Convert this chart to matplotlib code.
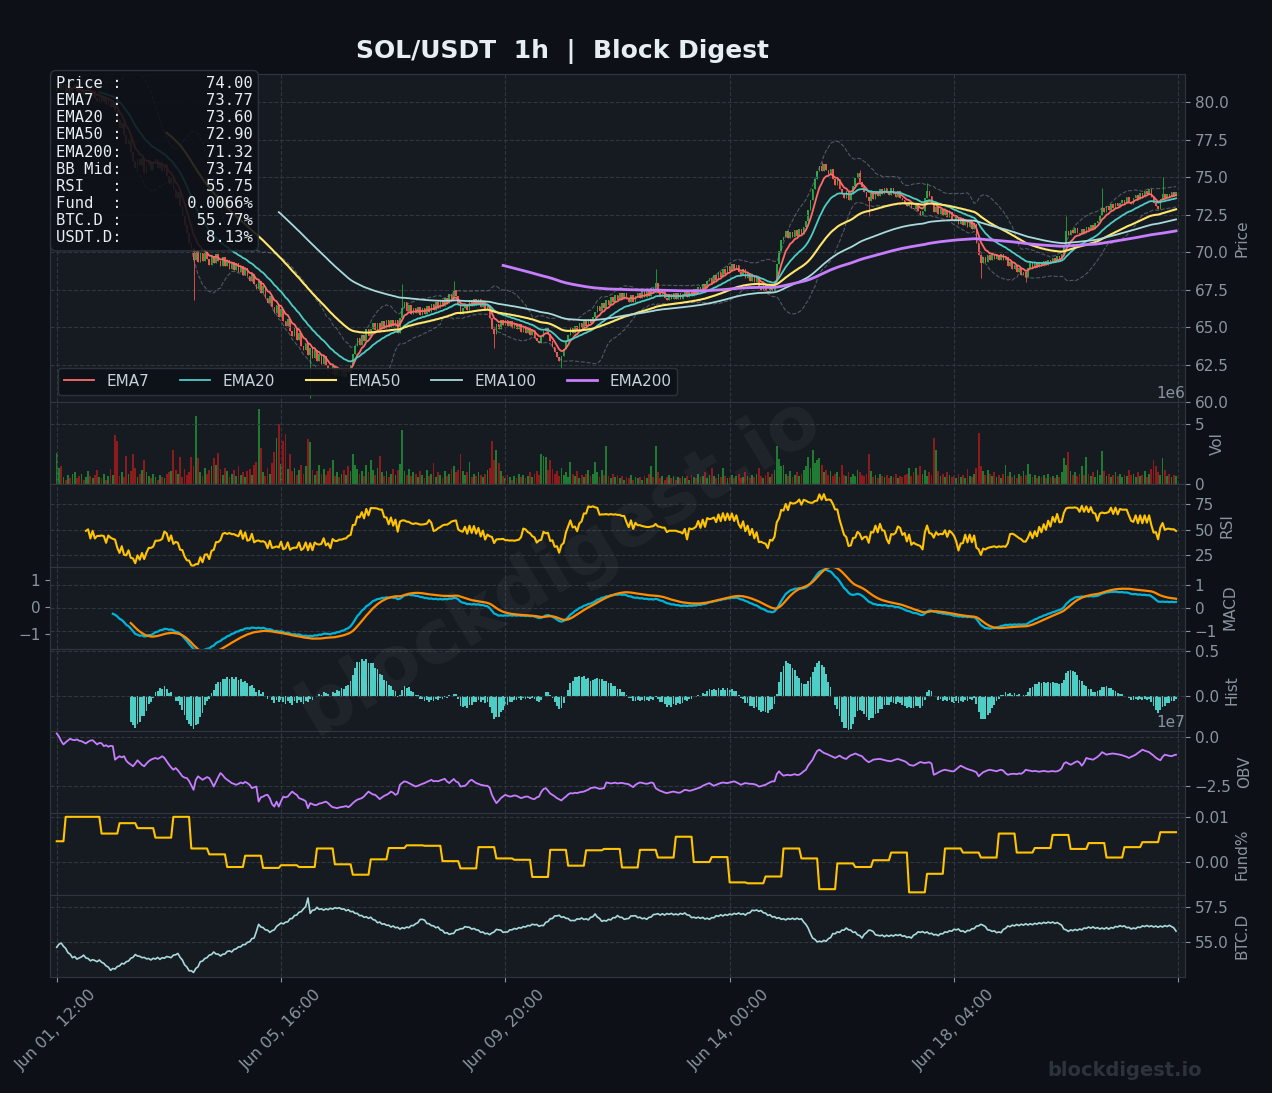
import numpy as np
import pandas as pd
import matplotlib
matplotlib.use("Agg")
import matplotlib.pyplot as plt

# paleta (tema escuro)
BG = "#0d1117"
PANEL = "#161b22"
GRID = "#30363d"
MUTED = "#8b949e"
UP, DOWN = "#26a641", "#f85149"
VOL_UP, VOL_DOWN = "#1f7a32", "#8e1b1b"

# ---- dados SOL/USDT 1h ----
first_open = 80.75
close = [
    80.90, 81.30, 80.85, 81.20, 80.70, 81.05, 80.60, 80.95, 81.20, 80.75, 80.50, 80.90, 80.45, 80.80, 80.95, 80.40, 80.75, 80.30, 80.10, 80.45,
    80.05, 80.35, 79.90, 80.20, 79.70, 80.00, 79.45, 78.90, 78.30, 78.60, 77.80, 77.20, 77.55, 76.70, 76.10, 75.60, 76.20, 75.80, 76.30, 75.30,
    75.80, 76.10, 75.50, 75.95, 76.20, 75.60, 76.00, 75.40, 75.85, 75.10, 74.60, 75.00, 74.20, 73.60, 74.00, 73.10, 72.40, 71.80, 71.30, 70.60,
    70.25, 69.50, 70.10, 69.35, 69.95, 69.40, 70.00, 69.55, 69.15, 69.75, 69.30, 69.90, 69.40, 69.10, 69.65, 69.05, 69.50, 68.90, 69.35, 68.80,
    69.25, 68.65, 69.05, 68.50, 68.95, 68.40, 68.05, 68.55, 67.90, 67.55, 68.05, 67.25, 67.75, 66.95, 66.60, 67.10, 66.35, 65.95, 66.50, 65.70,
    66.20, 65.40, 65.05, 65.55, 64.75, 64.40, 64.95, 64.15, 64.60, 63.75, 63.45, 63.95, 63.15, 63.60, 62.95, 63.45, 62.75, 63.20, 62.55, 63.05,
    62.45, 62.10, 61.90, 62.45, 61.80, 62.30, 61.75, 62.20, 61.70, 62.25, 61.95, 62.50, 63.20, 63.75, 64.25, 63.80, 64.50, 64.10, 64.85, 64.40,
    64.90, 65.30, 64.80, 65.25, 64.85, 65.40, 64.95, 65.45, 65.00, 65.50, 65.05, 65.45, 64.60, 65.60, 66.30, 66.70, 66.05, 66.45, 65.85, 66.30,
    65.95, 66.35, 65.80, 66.30, 65.90, 66.40, 66.00, 66.55, 66.15, 66.65, 66.25, 66.80, 66.40, 66.95, 66.60, 67.20, 66.85, 67.45, 67.10, 66.45,
    65.85, 66.30, 66.55, 66.15, 66.80, 66.40, 66.90, 66.45, 66.85, 66.35, 66.75, 66.20, 66.50, 65.60, 64.90, 64.55, 65.20, 64.85, 65.50, 65.15,
    65.50, 65.05, 65.40, 64.95, 65.30, 64.85, 65.20, 64.70, 65.05, 64.60, 64.95, 64.45, 64.80, 64.30, 64.10, 63.95, 64.35, 64.75, 64.95, 64.55,
    64.05, 63.65, 63.35, 63.00, 62.75, 63.05, 63.55, 64.05, 64.45, 64.95, 64.60, 65.10, 64.80, 65.25, 64.95, 65.40, 65.10, 65.55, 65.25, 65.70,
    66.00, 66.40, 66.05, 66.60, 66.25, 66.80, 66.45, 67.00, 66.65, 67.15, 66.80, 67.25, 66.85, 67.30, 66.90, 66.70, 67.15, 66.70, 67.05, 67.30,
    66.95, 67.40, 67.00, 67.45, 67.10, 67.60, 67.25, 67.95, 67.30, 67.05, 67.40, 66.95, 66.80, 67.20, 66.85, 67.30, 66.90, 67.25, 66.85, 67.20,
    67.35, 67.00, 67.45, 67.10, 67.55, 67.25, 67.70, 67.40, 67.90, 67.60, 68.10, 68.30, 67.95, 68.45, 68.15, 68.65, 68.35, 68.90, 68.55, 69.05,
    68.75, 69.20, 68.85, 69.15, 68.70, 68.50, 68.85, 68.30, 68.60, 68.10, 68.45, 68.00, 68.30, 67.75, 67.50, 67.85, 67.40, 67.30, 67.70, 67.40,
    68.10, 69.20, 70.10, 70.80, 71.00, 71.40, 70.95, 71.35, 71.00, 71.45, 71.10, 71.55, 71.20, 71.70, 72.10, 72.80, 73.50, 74.20, 74.90, 75.40,
    75.75, 75.40, 75.90, 75.50, 75.20, 75.55, 74.85, 74.50, 74.90, 74.20, 73.85, 73.60, 74.05, 73.50, 73.90, 74.40, 74.95, 75.25, 74.70, 74.35,
    74.00, 73.70, 73.40, 73.95, 73.55, 74.10, 73.75, 74.20, 73.85, 74.30, 73.95, 73.80, 74.25, 73.85, 73.70, 74.05, 73.60, 73.45, 73.25, 73.10,
    73.35, 72.95, 72.85, 73.20, 72.75, 72.50, 72.75, 73.60, 74.10, 73.75, 73.25, 72.65, 73.00, 72.55, 72.90, 72.45, 72.80, 72.35, 72.65, 72.15,
    72.05, 72.35, 71.85, 72.25, 71.80, 72.15, 71.65, 72.05, 71.55, 71.85, 70.60, 69.80, 69.25, 69.65, 69.35, 69.80, 69.45, 69.90, 69.55, 69.80,
    69.50, 69.85, 69.45, 69.70, 69.05, 69.35, 68.85, 69.15, 68.65, 68.95, 68.45, 68.70, 68.35, 68.95, 69.25, 68.95, 69.30, 69.00, 69.35, 69.10,
    69.40, 69.15, 69.50, 69.25, 69.60, 69.40, 69.75, 69.55, 69.90, 70.40, 71.40, 71.15, 71.50, 71.25, 71.60, 71.30, 71.20, 71.55, 71.30, 71.70,
    71.45, 71.80, 71.55, 71.95, 72.10, 72.45, 72.95, 72.65, 73.05, 72.80, 73.20, 72.95, 73.30, 73.05, 73.25, 73.50, 73.25, 73.65, 73.35, 73.20,
    73.60, 73.80, 73.55, 73.95, 73.70, 74.10, 73.85, 74.20, 73.65, 73.25, 73.05, 72.85, 73.55, 73.85, 73.60, 73.90, 73.65, 74.00, 73.75, 74.00,
]

# pavios longos visiveis (indice da vela, preco extremo)
wick_idx = [61, 113, 154, 177, 195, 225, 267, 341, 358, 362, 388, 412, 432, 450, 466, 493]
wick_px = [66.8, 60.3, 67.9, 68.1, 63.6, 62.3, 68.9, 76.0, 75.5, 72.4, 74.6, 68.3, 68.0, 72.4, 74.3, 75.0]

# volume em milhoes
volume_m = [
    2.6, 1.4, 1.5, 0.6, 0.4, 0.8, 0.5, 0.9, 1.0, 0.5, 0.7, 0.9, 0.4, 0.6, 1.1, 0.7, 0.5, 0.8, 1.2, 0.6,
    0.5, 0.9, 0.4, 0.7, 1.3, 0.8, 4.1, 3.6, 0.7, 1.0, 0.6, 2.4, 0.9, 1.1, 2.5, 1.4, 0.6, 0.9, 1.2, 2.0,
    1.0, 0.7, 0.5, 0.9, 0.6, 0.4, 0.8, 0.6, 0.5, 0.9, 1.0, 1.1, 2.9, 1.2, 0.9, 2.3, 0.6, 1.3, 0.8, 1.0,
    2.3, 1.5, 5.7, 2.2, 1.0, 0.7, 1.4, 0.9, 1.2, 1.5, 2.2, 1.6, 2.6, 1.3, 0.8, 1.4, 1.1, 0.6, 0.9, 1.2,
    0.7, 1.5, 0.8, 1.0, 0.6, 1.1, 1.3, 0.8, 1.6, 1.9, 6.3, 3.0, 1.0, 0.7, 1.4, 0.9, 1.8, 2.7, 3.9, 5.0,
    1.7, 3.6, 4.2, 1.3, 2.5, 1.1, 1.4, 0.8, 1.2, 1.6, 0.9, 1.5, 3.8, 3.5, 1.2, 0.8, 1.1, 1.6, 0.9, 1.3,
    0.8, 1.1, 1.4, 2.0, 0.7, 1.0, 0.6, 0.9, 1.2, 0.8, 1.5, 1.1, 2.5, 1.6, 1.3, 0.9, 1.1, 0.7, 1.6, 1.0,
    2.0, 1.2, 0.8, 1.4, 2.4, 1.0, 0.7, 1.1, 0.6, 0.9, 1.3, 0.8, 1.2, 1.7, 4.5, 1.1, 0.8, 1.3, 0.7, 1.0,
    0.9, 0.6, 1.1, 0.8, 0.5, 1.2, 0.7, 0.9, 1.8, 0.6, 1.0, 0.8, 0.5, 1.1, 0.7, 0.9, 1.3, 1.5, 1.0, 1.2,
    2.5, 1.1, 0.8, 1.0, 1.9, 0.6, 0.9, 0.7, 1.0, 0.8, 0.6, 0.9, 1.2, 1.4, 3.6, 2.0, 2.9, 1.8, 1.1, 0.7,
    0.5, 0.8, 0.6, 0.4, 0.7, 0.5, 0.9, 0.6, 0.8, 0.5, 0.7, 1.0, 0.6, 0.9, 1.1, 0.8, 2.5, 2.4, 2.3, 1.2,
    2.0, 1.3, 0.9, 1.1, 0.7, 1.4, 0.8, 1.0, 0.6, 1.9, 0.9, 0.7, 1.1, 0.5, 0.8, 0.6, 0.9, 1.2, 0.7, 0.9,
    1.9, 1.0, 0.6, 1.2, 0.8, 3.2, 0.7, 0.5, 0.9, 0.6, 0.8, 0.5, 0.7, 0.4, 0.6, 0.5, 0.8, 0.4, 0.6, 0.5,
    0.6, 0.4, 0.7, 0.5, 0.9, 1.5, 0.6, 3.2, 1.0, 0.5, 0.7, 0.4, 0.6, 0.8, 0.5, 0.7, 0.4, 0.6, 0.5, 0.7,
    0.5, 0.7, 0.4, 0.8, 0.6, 0.5, 0.9, 0.6, 0.7, 1.0, 0.5, 0.8, 1.4, 0.7, 0.5, 0.9, 0.6, 1.4, 0.7, 0.5,
    0.6, 0.8, 0.5, 0.7, 0.9, 0.5, 0.6, 1.0, 0.7, 0.5, 0.8, 0.6, 0.9, 1.4, 0.7, 0.5, 0.8, 1.0, 0.6, 0.9,
    1.2, 3.2, 2.1, 1.5, 1.6, 0.9, 0.7, 1.1, 0.6, 0.8, 1.0, 0.7, 0.9, 1.2, 1.5, 2.3, 1.4, 2.9, 1.8, 2.0,
    2.2, 1.6, 1.0, 1.2, 0.8, 1.1, 0.7, 0.9, 1.0, 0.6, 1.6, 0.8, 0.7, 1.0, 0.6, 0.9, 0.7, 1.2, 1.0, 0.8,
    0.7, 0.9, 2.5, 1.1, 0.6, 0.8, 0.5, 0.9, 0.7, 0.6, 0.8, 0.5, 0.7, 0.6, 0.9, 0.5, 0.7, 0.6, 0.8, 0.9,
    1.4, 0.7, 1.0, 1.4, 0.8, 1.5, 0.9, 1.2, 0.7, 1.0, 0.8, 3.9, 2.9, 1.1, 0.7, 0.9, 0.6, 1.0, 0.8, 0.6,
    0.7, 0.5, 0.9, 0.6, 0.8, 0.5, 1.3, 0.7, 0.6, 0.9, 1.4, 4.3, 1.5, 1.1, 0.8, 1.2, 0.9, 0.7, 1.0, 0.6,
    0.8, 0.5, 0.9, 1.6, 0.7, 1.0, 0.6, 0.8, 0.5, 0.9, 0.7, 1.1, 0.8, 1.7, 0.9, 0.6, 0.8, 0.5, 0.7, 0.6,
    0.8, 0.5, 0.9, 0.6, 0.7, 0.5, 0.8, 0.6, 1.0, 2.2, 1.6, 2.7, 1.1, 0.8, 1.0, 0.7, 0.9, 1.5, 0.8, 2.3,
    0.9, 0.7, 1.0, 0.6, 1.2, 0.8, 2.8, 1.1, 0.7, 0.9, 0.6, 0.8, 1.0, 0.7, 0.9, 0.6, 0.8, 0.7, 1.2, 0.8,
    0.9, 0.6, 1.0, 0.7, 0.8, 1.1, 0.6, 0.9, 1.3, 2.0, 1.5, 1.0, 0.8, 2.2, 1.2, 0.7, 0.9, 0.6, 0.8, 0.7,
]

# OBV em unidades de 1e7
obv_1e7 = [
    0.21, 0.05, -0.19, -0.36, -0.25, -0.15, -0.07, -0.12, -0.14, -0.10, -0.17, -0.19, -0.25, -0.31, -0.22, -0.16, -0.14, -0.25, -0.36, -0.28,
    -0.30, -0.45, -0.40, -0.48, -0.43, -0.45, -1.15, -1.05, -0.97, -1.03, -0.97, -1.20, -1.32, -1.40, -1.49, -1.35, -1.18, -1.30, -1.42, -1.49,
    -1.35, -1.23, -1.15, -1.10, -1.06, -1.11, -1.05, -0.97, -1.06, -1.23, -1.40, -1.55, -1.67, -1.58, -1.70, -1.85, -2.01, -2.08, -2.10, -2.25,
    -2.48, -2.71, -2.20, -2.01, -2.10, -2.19, -2.12, -2.05, -2.10, -2.30, -2.54, -2.30, -2.05, -1.84, -1.95, -2.10, -2.19, -2.27, -2.36, -2.40,
    -2.45, -2.40, -2.33, -2.38, -2.30, -2.36, -2.45, -2.62, -2.58, -2.54, -3.32, -3.10, -3.06, -2.99, -2.97, -3.15, -3.45, -3.58, -3.32, -3.58,
    -3.30, -3.06, -3.10, -3.06, -2.92, -2.80, -2.90, -2.97, -3.14, -3.18, -3.23, -3.30, -3.66, -3.40, -3.45, -3.50, -3.49, -3.42, -3.40, -3.36,
    -3.32, -3.40, -3.52, -3.61, -3.63, -3.66, -3.62, -3.60, -3.58, -3.55, -3.61, -3.52, -3.40, -3.30, -3.22, -3.18, -3.14, -3.05, -2.92, -2.80,
    -2.88, -2.95, -2.97, -3.08, -3.19, -3.10, -3.02, -2.97, -2.90, -2.80, -2.86, -2.97, -2.90, -2.45, -2.35, -2.27, -2.30, -2.36, -2.42, -2.48,
    -2.54, -2.50, -2.45, -2.40, -2.36, -2.30, -2.25, -2.19, -2.27, -2.25, -2.27, -2.22, -2.18, -2.14, -2.28, -2.36, -2.25, -2.15, -2.28, -2.33,
    -2.54, -2.52, -2.50, -2.40, -2.25, -2.19, -2.28, -2.36, -2.40, -2.45, -2.47, -2.50, -2.50, -2.60, -2.97, -3.20, -3.40, -3.28, -3.14, -3.05,
    -2.97, -3.02, -3.06, -3.04, -3.00, -3.02, -3.08, -3.14, -3.10, -3.06, -3.06, -3.12, -3.17, -3.19, -3.10, -3.06, -2.82, -2.67, -2.62, -2.75,
    -2.90, -2.97, -3.05, -3.14, -3.20, -3.26, -3.15, -3.06, -2.95, -2.88, -2.90, -2.86, -2.88, -2.84, -2.82, -2.80, -2.75, -2.70, -2.62, -2.60,
    -2.58, -2.62, -2.66, -2.64, -2.62, -2.33, -2.35, -2.38, -2.36, -2.34, -2.38, -2.36, -2.35, -2.38, -2.40, -2.42, -2.50, -2.57, -2.45, -2.38,
    -2.33, -2.35, -2.38, -2.40, -2.37, -2.33, -2.36, -2.62, -2.70, -2.76, -2.80, -2.85, -2.88, -2.85, -2.82, -2.80, -2.83, -2.86, -2.85, -2.78,
    -2.71, -2.73, -2.76, -2.74, -2.70, -2.66, -2.62, -2.58, -2.50, -2.45, -2.40, -2.36, -2.44, -2.50, -2.45, -2.40, -2.36, -2.33, -2.35, -2.36,
    -2.33, -2.30, -2.27, -2.32, -2.38, -2.45, -2.40, -2.36, -2.38, -2.40, -2.40, -2.42, -2.46, -2.54, -2.52, -2.48, -2.45, -2.38, -2.32, -2.27,
    -2.27, -1.90, -1.75, -1.88, -1.98, -1.95, -1.93, -1.96, -1.93, -1.90, -1.94, -1.93, -1.85, -1.75, -1.67, -1.45, -1.30, -1.15, -0.90, -0.70,
    -0.63, -0.72, -0.80, -0.84, -0.89, -0.95, -1.00, -1.06, -1.00, -0.94, -1.02, -1.08, -1.11, -1.00, -0.92, -0.88, -0.83, -0.88, -0.93, -0.97,
    -1.10, -1.20, -1.28, -1.22, -1.15, -1.13, -1.12, -1.11, -1.14, -1.17, -1.20, -1.22, -1.23, -1.18, -1.14, -1.11, -1.15, -1.19, -1.23, -1.30,
    -1.41, -1.44, -1.46, -1.40, -1.33, -1.27, -1.30, -1.32, -1.30, -1.28, -1.35, -1.93, -1.88, -1.81, -1.75, -1.70, -1.67, -1.70, -1.72, -1.75,
    -1.75, -1.65, -1.55, -1.46, -1.52, -1.58, -1.63, -1.67, -1.70, -1.75, -1.80, -2.01, -1.90, -1.80, -1.75, -1.70, -1.67, -1.70, -1.72, -1.75,
    -1.70, -1.67, -1.72, -1.85, -1.93, -1.90, -1.88, -1.88, -1.90, -1.86, -1.88, -1.80, -1.67, -1.70, -1.72, -1.75, -1.73, -1.75, -1.77, -1.75,
    -1.73, -1.75, -1.77, -1.75, -1.74, -1.76, -1.75, -1.70, -1.60, -1.35, -1.28, -1.35, -1.41, -1.35, -1.28, -1.23, -1.30, -1.46, -1.30, -1.06,
    -1.10, -1.12, -1.15, -1.08, -1.00, -0.90, -0.76, -0.82, -0.89, -0.86, -0.84, -0.83, -0.85, -0.87, -0.89, -0.92, -0.96, -1.00, -1.06, -1.00,
    -0.95, -0.89, -0.80, -0.72, -0.63, -0.68, -0.72, -0.76, -0.85, -0.94, -1.05, -1.12, -1.18, -1.00, -0.89, -0.92, -0.95, -0.97, -0.92, -0.89,
]

# dominancia do BTC (%)
btc_dom = [
    54.63, 54.85, 54.93, 54.70, 54.55, 54.25, 54.15, 53.90, 53.98, 53.80, 53.88, 53.95, 54.08, 53.88, 53.84, 53.68, 53.76, 53.70, 53.62, 53.74,
    53.58, 53.50, 53.32, 53.24, 53.01, 53.14, 53.10, 53.28, 53.32, 53.50, 53.46, 53.62, 53.66, 53.86, 53.92, 54.12, 54.02, 54.00, 53.90, 53.92,
    53.82, 53.84, 53.74, 53.86, 53.80, 53.92, 53.78, 53.90, 53.86, 53.98, 53.95, 53.90, 54.08, 54.10, 54.20, 53.92, 53.74, 53.40, 53.25, 52.98,
    52.98, 52.86, 53.14, 53.26, 53.62, 53.66, 53.84, 53.90, 54.08, 54.12, 54.30, 54.16, 54.15, 54.02, 54.14, 54.16, 54.34, 54.38, 54.30, 54.48,
    54.52, 54.66, 54.66, 54.82, 54.82, 54.98, 55.02, 55.24, 55.28, 55.74, 56.25, 56.06, 56.02, 55.86, 55.84, 55.68, 55.80, 55.86, 56.10, 56.22,
    56.34, 56.28, 56.40, 56.42, 56.64, 56.66, 56.87, 56.90, 57.10, 57.14, 57.34, 57.50, 58.10, 57.02, 57.24, 57.26, 57.45, 57.30, 57.34, 57.25,
    57.34, 57.28, 57.38, 57.32, 57.42, 57.37, 57.42, 57.31, 57.34, 57.21, 57.28, 57.14, 57.16, 57.02, 57.02, 56.86, 56.87, 56.74, 56.78, 56.67,
    56.75, 56.58, 56.54, 56.36, 56.41, 56.26, 56.29, 56.18, 56.19, 56.06, 56.13, 56.01, 56.04, 55.91, 56.01, 55.96, 56.06, 56.01, 56.16, 56.16,
    56.29, 56.36, 56.59, 56.60, 56.54, 56.31, 56.29, 56.16, 56.14, 56.01, 56.06, 55.86, 55.82, 55.63, 55.66, 55.54, 55.60, 55.61, 55.84, 55.86,
    55.94, 55.94, 56.09, 56.05, 56.04, 55.91, 55.96, 55.86, 55.84, 55.68, 55.71, 55.58, 55.62, 55.52, 55.64, 55.71, 55.89, 55.86, 55.84, 55.68,
    55.71, 55.71, 55.86, 55.86, 55.96, 55.91, 56.02, 55.98, 56.09, 56.06, 56.17, 56.14, 56.26, 56.21, 56.24, 56.11, 56.17, 56.16, 56.39, 56.44,
    56.64, 56.66, 56.84, 56.84, 56.89, 56.74, 56.78, 56.67, 56.66, 56.51, 56.52, 56.51, 56.64, 56.60, 56.70, 56.59, 56.64, 56.56, 56.74, 56.78,
    56.98, 56.76, 56.66, 56.46, 56.52, 56.48, 56.60, 56.56, 56.72, 56.71, 56.87, 56.74, 56.74, 56.60, 56.64, 56.66, 56.84, 56.84, 56.86, 56.72,
    56.75, 56.64, 56.69, 56.60, 56.74, 56.76, 56.94, 56.95, 57.00, 56.90, 56.99, 56.90, 57.01, 56.95, 57.02, 56.92, 56.98, 56.91, 57.02, 56.96,
    57.05, 56.91, 56.89, 56.72, 56.75, 56.69, 56.75, 56.67, 56.74, 56.62, 56.68, 56.60, 56.72, 56.71, 56.86, 56.81, 56.92, 56.84, 56.94, 56.88,
    56.98, 56.92, 57.02, 56.96, 57.05, 56.95, 57.00, 56.90, 57.04, 57.06, 57.24, 57.21, 57.26, 57.16, 57.22, 57.06, 57.04, 56.88, 56.92, 56.76,
    56.79, 56.67, 56.72, 56.60, 56.64, 56.56, 56.66, 56.60, 56.68, 56.59, 56.68, 56.60, 56.64, 56.41, 56.24, 55.98, 55.60, 55.28, 55.19, 55.01,
    55.06, 55.01, 55.12, 55.05, 55.24, 55.31, 55.60, 55.58, 55.72, 55.68, 55.84, 55.84, 55.99, 55.86, 55.84, 55.68, 55.71, 55.51, 55.46, 55.28,
    55.54, 55.66, 55.84, 55.82, 55.74, 55.51, 55.48, 55.44, 55.49, 55.38, 55.48, 55.40, 55.49, 55.42, 55.52, 55.46, 55.53, 55.41, 55.44, 55.32,
    55.37, 55.28, 55.49, 55.56, 55.72, 55.68, 55.74, 55.64, 55.71, 55.58, 55.62, 55.50, 55.54, 55.45, 55.59, 55.58, 55.72, 55.68, 55.80, 55.76,
    55.90, 55.86, 55.92, 55.76, 55.79, 55.68, 55.82, 55.80, 55.94, 55.94, 56.12, 56.14, 56.25, 56.18, 56.09, 55.86, 55.84, 55.75, 55.79, 55.66,
    55.71, 55.66, 55.89, 55.96, 56.13, 56.08, 56.19, 56.14, 56.24, 56.16, 56.26, 56.19, 56.29, 56.20, 56.29, 56.22, 56.32, 56.26, 56.36, 56.29,
    56.39, 56.32, 56.41, 56.34, 56.41, 56.31, 56.38, 56.28, 56.19, 55.91, 55.86, 55.75, 55.86, 55.80, 55.89, 55.82, 55.92, 55.86, 55.99, 55.96,
    56.06, 55.98, 56.07, 55.96, 56.02, 55.92, 55.99, 55.92, 56.02, 55.91, 56.02, 55.98, 56.10, 56.06, 56.16, 56.09, 56.14, 56.01, 56.04, 55.92,
    55.99, 55.94, 56.06, 56.02, 56.14, 56.09, 56.17, 56.08, 56.15, 56.06, 56.13, 56.04, 56.13, 56.06, 56.16, 56.09, 56.18, 56.09, 56.00, 55.77,
]

# funding (%), um valor por janela de 8h (a primeira janela tem 4h)
funding_rate = [
    0.0046, 0.0100, 0.0100, 0.0063, 0.0086, 0.0075, 0.0054, 0.0100, 0.0030, 0.0017,
    -0.0011, 0.0014, -0.0013, -0.0007, -0.0011, 0.0030, -0.0005, -0.0028, 0.0006, 0.0031,
    0.0037, 0.0036, 0.0002, -0.0014, 0.0033, 0.0008, 0.0005, -0.0033, 0.0027, -0.0008,
    0.0026, 0.0029, -0.0012, 0.0027, 0.0010, 0.0056, 0.0000, 0.0011, -0.0045, -0.0047,
    -0.0032, 0.0030, 0.0008, -0.0060, -0.0003, -0.0011, 0.0004, 0.0021, -0.0067, -0.0026,
    0.0030, 0.0021, 0.0010, 0.0063, 0.0021, 0.0031, 0.0060, 0.0029, 0.0042, 0.0010,
    0.0033, 0.0044, 0.0066,
]
funding_hours = [4] + [8] * 62

tick_idx = [0, 100, 200, 300, 400, 500]
tick_labels = ["Jun 01, 12:00", "Jun 05, 16:00", "Jun 09, 20:00", "Jun 14, 00:00", "Jun 18, 04:00", ""]

info_names = ["Price", "EMA7", "EMA20", "EMA50", "EMA200", "BB Mid", "RSI", "Fund", "BTC.D", "USDT.D"]
info_vals = ["74.00", "73.77", "73.60", "72.90", "71.32", "73.74", "55.75", "0.0066%", "55.77%", "8.13%"]

ema_periods = [7, 20, 50, 100, 200]
ema_colors = ["#ff6b6b", "#4ecdc4", "#ffe66d", "#a8dadc", "#c77dff"]
ema_widths = [1.3, 1.3, 1.5, 1.3, 2.0]

# ---- indicadores ----
close = np.array(close)
n = len(close)
x = np.arange(n)
s = pd.Series(close)
opens = np.r_[first_open, close[:-1]]
high = np.maximum(opens, close)
low = np.minimum(opens, close)
for i, p in zip(wick_idx, wick_px):
    high[i] = max(high[i], p)
    low[i] = min(low[i], p)
up = close >= opens

emas = [s.ewm(span=p, adjust=False, min_periods=p).mean() for p in ema_periods]
bb_mid = s.rolling(20).mean()
bb_std = s.rolling(20).std()

delta = s.diff()
gain = delta.where(delta > 0, 0.0).rolling(14).mean()
loss = (-delta.where(delta < 0, 0.0)).rolling(14).mean()
rsi = 100 - 100 / (1 + gain / loss)

ema12 = s.ewm(span=12, adjust=False, min_periods=12).mean()
ema26 = s.ewm(span=26, adjust=False, min_periods=26).mean()
macd = ema12 - ema26
signal = macd.ewm(span=9, adjust=False, min_periods=9).mean()
hist = macd - signal

funding = np.repeat(funding_rate, funding_hours)

# ---- figura ----
fig = plt.figure(figsize=(12.72, 10.93), dpi=100, facecolor=BG)
gs = fig.add_gridspec(8, 1, height_ratios=[4, 1, 1, 1, 1, 1, 1, 1], hspace=0,
                      left=50 / 1272, right=1185 / 1272, top=1 - 74 / 1093, bottom=1 - 977 / 1093)
axes = [fig.add_subplot(gs[0])]
for k in range(1, 8):
    axes.append(fig.add_subplot(gs[k], sharex=axes[0]))
ax_p, ax_v, ax_r, ax_m, ax_h, ax_o, ax_f, ax_b = axes
ax_s = ax_m.twinx()


def style(ax, grid=True):
    ax.set_facecolor(PANEL)
    if grid:
        ax.grid(True, color=GRID, linestyle="--", linewidth=0.8)
    ax.tick_params(colors=MUTED, labelsize=11)
    for sp in ax.spines.values():
        sp.set_color(GRID)
    ax.yaxis.label.set_color(MUTED)
    ax.yaxis.get_offset_text().set_color(MUTED)
    ax.yaxis.get_offset_text().set_fontsize(11)


for ax in axes:
    style(ax)
    ax.yaxis.tick_right()
    ax.yaxis.set_label_position("right")
style(ax_s, grid=False)
ax_s.yaxis.tick_left()
ax_s.patch.set_visible(False)

# preco
ax_p.vlines(x, low, high, color=np.where(up, UP, DOWN), linewidth=0.6)
ax_p.bar(x, close - opens, bottom=opens, width=0.7, color=np.where(up, UP, DOWN), linewidth=0)
ax_p.plot(x, bb_mid + 2 * bb_std, color=MUTED, lw=0.8, ls="--", alpha=0.5)
ax_p.plot(x, bb_mid - 2 * bb_std, color=MUTED, lw=0.8, ls="--", alpha=0.5)
handles = []
for p, e, c, w in zip(ema_periods, emas, ema_colors, ema_widths):
    h, = ax_p.plot(x, e, color=c, lw=w, label=f"EMA{p}")
    handles.append(h)
ax_p.set_ylim(59.98, 81.87)
ax_p.set_yticks(np.arange(60, 80.1, 2.5))
ax_p.set_ylabel("Price", fontsize=11)
ax_p.legend(handles=handles, loc="lower left", ncol=5, fontsize=11, facecolor=BG,
            edgecolor=GRID, framealpha=0.9, labelcolor="#c9d1d9")

info = "\n".join(f"{nm:<6}:{val:>14}" for nm, val in zip(info_names, info_vals))
ax_p.text(0.0053, 0.994, info, transform=ax_p.transAxes, va="top", ha="left",
          family="DejaVu Sans Mono", fontsize=11.2, color="#e6edf3", linespacing=1.18, zorder=10,
          bbox=dict(boxstyle="round,pad=0.35", facecolor=BG, edgecolor=GRID, alpha=0.88))

# volume
ax_v.bar(x, np.array(volume_m) * 1e6, width=0.8, color=np.where(up, VOL_UP, VOL_DOWN), linewidth=0)
ax_v.set_ylim(0, 6.83e6)
ax_v.set_yticks([0, 5e6])
ax_v.set_ylabel("Vol", fontsize=11)

# RSI
ax_r.plot(x, rsi, color="#ffc300", lw=1.5)
ax_r.set_ylim(14, 94.5)
ax_r.set_yticks([25, 50, 75])
ax_r.set_ylabel("RSI", fontsize=11)

# MACD (sinal no eixo gemeo da esquerda)
ax_m.plot(x, macd, color="#00b4d8", lw=1.6)
ax_s.plot(x, signal, color="#ff8c00", lw=1.6)
ax_m.set_ylim(-1.77, 1.83)
ax_s.set_ylim(-1.56, 1.52)
ax_m.set_yticks([-1, 0, 1])
ax_s.set_yticks([-1, 0, 1])
ax_m.set_ylabel("MACD", fontsize=11)

# histograma
ax_h.bar(x, hist, width=0.8, color="#4ecdc4", linewidth=0)
ax_h.set_ylim(-0.381, 0.527)
ax_h.set_yticks([0, 0.5])
ax_h.set_ylabel("Hist", fontsize=11)

# OBV
ax_o.plot(np.arange(len(obv_1e7)), np.array(obv_1e7) * 1e7, color="#c77dff", lw=1.3)
ax_o.set_ylim(-3.9e7, 0.35e7)
ax_o.set_yticks([-2.5e7, 0])
ax_o.set_ylabel("OBV", fontsize=11)

# funding
ax_f.plot(np.arange(len(funding)), funding, color="#ffc300", lw=1.5)
ax_f.set_ylim(-0.00727, 0.01089)
ax_f.set_yticks([0, 0.01])
ax_f.set_ylabel("Fund%", fontsize=11)

# BTC.D
ax_b.plot(np.arange(len(btc_dom)), btc_dom, color="#a8dadc", lw=1.2)
ax_b.set_ylim(52.54, 58.32)
ax_b.set_yticks([55, 57.5])
ax_b.set_ylabel("BTC.D", fontsize=11)

ax_b.set_xlim(-3, 503)
ax_b.set_xticks(tick_idx)
ax_b.set_xticklabels(tick_labels, rotation=45, fontsize=11.5, color=MUTED)
for ax in axes[:-1]:
    ax.tick_params(axis="x", labelbottom=False, length=0)

fig.text(563 / 1272, 1 - 52 / 1093, "SOL/USDT  1h  |  Block Digest", fontsize=18,
         fontweight="bold", color="#e6edf3", ha="center", va="center")
fig.text(0.44, 0.483, "blockdigest.io", fontsize=54, fontweight="bold", color="white",
         alpha=0.045, rotation=31, ha="center", va="center")
fig.text(1125 / 1272, 1 - 1070 / 1093, "blockdigest.io", fontsize=14, fontweight="bold",
         color="#2d333b", ha="center", va="center")

fig.savefig("out.png", dpi=100, facecolor=BG)
